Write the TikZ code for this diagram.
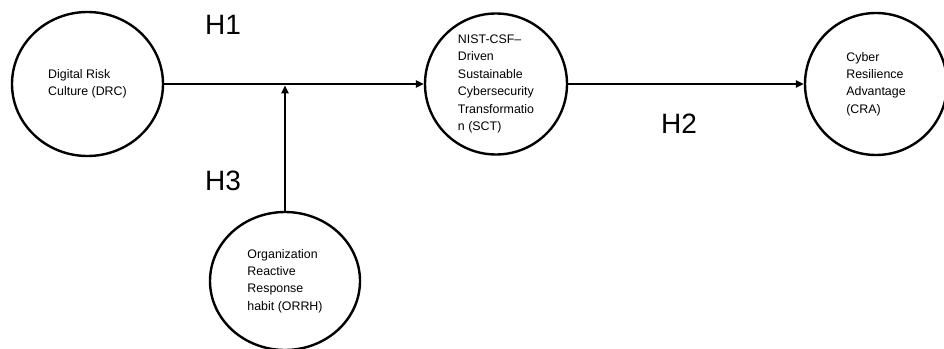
\documentclass[tikz,border=0pt]{standalone}
\usepackage{fontspec}
\setmainfont{Liberation Sans}
\usetikzlibrary{shapes.geometric,arrows.meta}
\begin{document}
\begin{tikzpicture}[x=0.75pt,y=-0.75pt,
  construct/.style={ellipse,draw=black,line width=1.8pt,inner sep=0pt,
    align=left,font=\fontsize{9.3}{13.1}\selectfont},
  link/.style={line width=1.1pt,-{Triangle[length=6pt,width=5.5pt]}},
  hyp/.style={inner sep=0pt,font=\fontsize{21}{24}\selectfont}]
\clip (0,0) rectangle (944,349);
\fill[white] (0,0) rectangle (944,349);
\node[construct,minimum width=113.25pt,minimum height=108pt] (drc) at (87.5,84)
  {Digital Risk\\Culture (DRC)};
\node[construct,minimum width=106.5pt,minimum height=105.75pt] (sct) at (496,84)
  {NIST-CSF–\\Driven\\Sustainable\\Cybersecurity\\Transformatio\\n (SCT)};
\node[construct,minimum width=106.5pt,minimum height=106.5pt] (cra) at (876,84)
  {Cyber\\Resilience\\Advantage\\(CRA)};
\node[construct,minimum width=112.5pt,minimum height=103.5pt] (orrh) at (285,281)
  {Organization\\Reactive\\Response\\habit (ORRH)};
\coordinate (mod) at (285,85.5);
\draw[link] (drc) -- (sct);
\draw[link] (sct) -- (cra);
\draw[link] (orrh.north) -- (mod);
\node[hyp] (h1) at (223,24.5) {H1};
\node[hyp] (h2) at (679,124) {H2};
\node[hyp] (h3) at (223,180.5) {H3};
\end{tikzpicture}
\end{document}
